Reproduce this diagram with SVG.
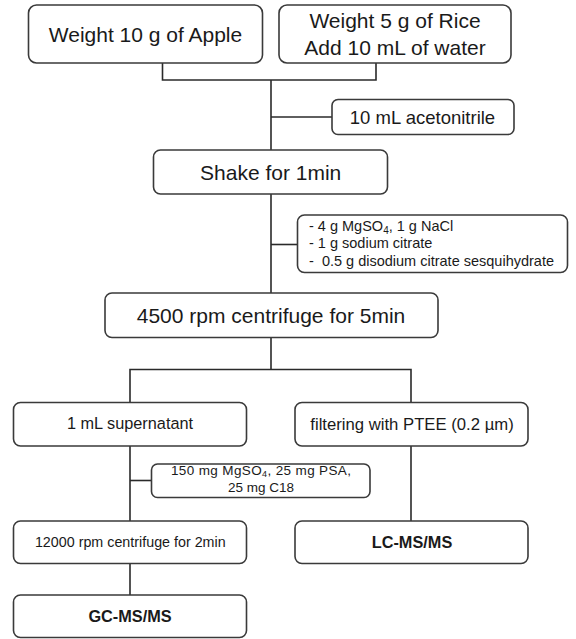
<svg xmlns="http://www.w3.org/2000/svg" width="576" height="639" viewBox="0 0 576 639">
<style>
rect{fill:#fff;stroke:#3a3a3a;stroke-width:1.6}
text{font-family:"Liberation Sans",Arial,sans-serif;fill:#1a1a1a}
.c{text-anchor:middle}
.big{font-size:21px}
.b{font-weight:bold;font-size:16.3px}
#connectors path{fill:none;stroke:#2a2a2a;stroke-width:1.6}
</style>
<rect x="0" y="0" width="576" height="639" style="fill:#fff;stroke:none"/>
<g id="connectors">
<path d="M162.5 63V80H376V63"/>
<path d="M271 80V150"/>
<path d="M271 117H332"/>
<path d="M271 194V293"/>
<path d="M271 244.5H297.5"/>
<path d="M271 337.5V369.5"/>
<path d="M130 402.5V369.5H411V402.5"/>
<path d="M130 446V521"/>
<path d="M130 480.5H151.5"/>
<path d="M411 446V521"/>
<path d="M130 563.5V595"/>
</g>
<g id="apple">
<rect x="28.5" y="5" width="234" height="58" rx="8"/>
<text class="c big" x="145.5" y="41.5">Weight 10 g of Apple</text>
</g>
<g id="rice">
<rect x="279" y="5" width="232" height="58" rx="8"/>
<text class="c big" x="395" y="27.5">Weight 5 g of Rice</text>
<text class="c big" x="395" y="55">Add 10 mL of water</text>
</g>
<g id="acetonitrile">
<rect x="332" y="99.5" width="182" height="35" rx="6"/>
<text class="c" x="422.5" y="124" font-size="18.5">10 mL acetonitrile</text>
</g>
<g id="shake">
<rect x="153.5" y="150" width="234" height="44" rx="7"/>
<text class="c big" x="270.7" y="180">Shake for 1min</text>
</g>
<g id="salts">
<rect x="297.5" y="215" width="270" height="57.5" rx="7"/>
<text x="309" y="230.5" font-size="14.5">- 4 g MgSO<tspan font-size="10" dy="3">4</tspan><tspan dy="-3">, 1 g NaCl</tspan></text>
<text x="309" y="248.3" font-size="14.5">- 1 g sodium citrate</text>
<text x="309" y="266" font-size="14.5" xml:space="preserve">-  0.5 g disodium citrate sesquihydrate</text>
</g>
<g id="centrifuge1">
<rect x="105" y="293" width="333" height="44.5" rx="7"/>
<text class="c big" x="271" y="322.7">4500 rpm centrifuge for 5min</text>
</g>
<g id="supernatant">
<rect x="13.5" y="402.5" width="233" height="43.5" rx="7"/>
<text class="c" x="130" y="429.3" font-size="16.3">1 mL supernatant</text>
</g>
<g id="filtering">
<rect x="295" y="402.5" width="233" height="43.5" rx="7"/>
<text class="c" x="412" y="430" font-size="16.7">filtering with PTEE (0.2 µm)</text>
</g>
<g id="dspe">
<rect x="151.5" y="464" width="218.5" height="33.5" rx="6"/>
<text class="c" x="261" y="475" font-size="13.5" textLength="180" lengthAdjust="spacing">150 mg MgSO<tspan font-size="9" dy="2">4</tspan><tspan dy="-2">, 25 mg PSA,</tspan></text>
<text class="c" x="261" y="491.5" font-size="13.5">25 mg C18</text>
</g>
<g id="centrifuge2">
<rect x="13.5" y="521" width="233" height="42.5" rx="7"/>
<text class="c" x="130.3" y="546.7" font-size="14.3">12000 rpm centrifuge for 2min</text>
</g>
<g id="lcms">
<rect x="295" y="521" width="233" height="42.5" rx="7"/>
<text class="c b" x="412" y="547.7">LC-MS/MS</text>
</g>
<g id="gcms">
<rect x="13.5" y="595" width="233" height="42.5" rx="7"/>
<text class="c b" x="130" y="622.3">GC-MS/MS</text>
</g>
</svg>
